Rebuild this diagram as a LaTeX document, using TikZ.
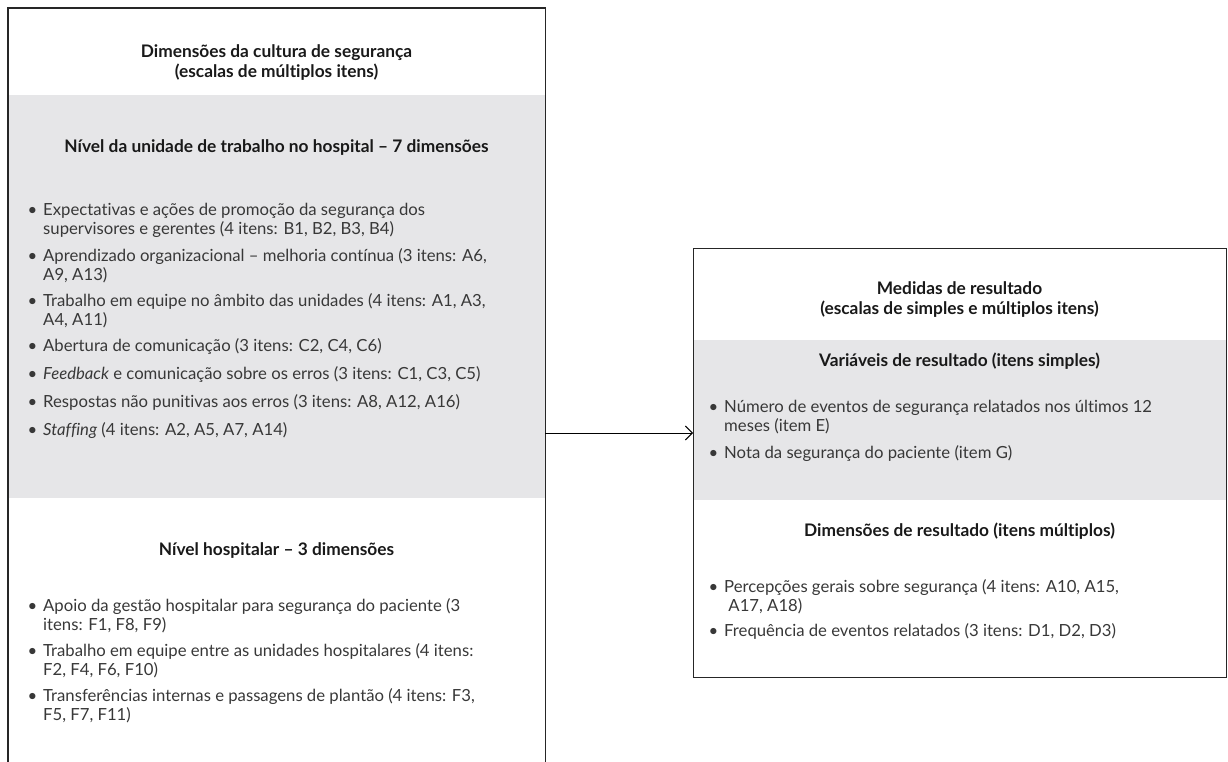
\documentclass[tikz,border=0pt]{standalone}
\usepackage{fontspec}
\setmainfont{Lato}[Ligatures={NoCommon}]
\usetikzlibrary{arrows.meta}
\definecolor{panel}{HTML}{E6E6E8}
\newcommand{\bul}{\makebox[0pt][r]{\textbullet\hspace{6pt}}}
\begin{document}
\begin{tikzpicture}[x=1pt,y=-1pt,
  frame/.style={draw=black!85, line width=1.1pt},
  shade/.style={fill=panel, draw=none},
  head/.style={font=\fontsize{17.3}{19}\selectfont\bfseries, align=center, anchor=north, inner sep=0pt, text=black!90},
  item/.style={font=\fontsize{16.7}{19}\selectfont, align=left, anchor=north west, inner sep=0pt, text=black!78},
  link/.style={-{Straight Barb[length=7pt,width=14pt]}, line width=0.9pt}]
\useasboundingbox (0,0) rectangle (1228,762);
% left panel
\fill[shade] (8,95) rectangle (545,498);
\node[minimum width=537pt, minimum height=754pt, inner sep=0pt, anchor=north west] (L) at (8,8) {};
\draw[frame] (L.south west) -- (L.north west) -- (L.north east) -- (L.south east);
\node[head] (Lt) at (276.5,44) {\strut Dimensões da cultura de segurança\\(escalas de múltiplos itens)};
\node[head] (Lh1) at (276.5,139) {\strut Nível da unidade de trabalho no hospital – 7 dimensões};
\node[item] (a1) at (43,202) {\strut\bul Expectativas e ações de promoção da segurança dos\\supervisores e gerentes (4 itens: B1, B2, B3, B4)};
\node[item] (a2) at (43,248) {\strut\bul Aprendizado organizacional – melhoria contínua (3 itens: A6,\\A9, A13)};
\node[item] (a3) at (43,293) {\strut\bul Trabalho em equipe no âmbito das unidades (4 itens: A1, A3,\\A4, A11)};
\node[item] (a4) at (43,338) {\strut\bul Abertura de comunicação (3 itens: C2, C4, C6)};
\node[item] (a5) at (43,366) {\strut\bul \textit{Feedback} e comunicação sobre os erros (3 itens: C1, C3, C5)};
\node[item] (a6) at (43,394) {\strut\bul Respostas não punitivas aos erros (3 itens: A8, A12, A16)};
\node[item] (a7) at (43,422) {\strut\bul \textit{Staffing} (4 itens: A2, A5, A7, A14)};
\node[head] (Lh2) at (276.5,542) {\strut Nível hospitalar – 3 dimensões};
\node[item] (b1) at (43,598) {\strut\bul Apoio da gestão hospitalar para segurança do paciente (3\\itens: F1, F8, F9)};
\node[item] (b2) at (43,643) {\strut\bul Trabalho em equipe entre as unidades hospitalares (4 itens:\\F2, F4, F6, F10)};
\node[item] (b3) at (43,688) {\strut\bul Transferências internas e passagens de plantão (4 itens: F3,\\F5, F7, F11)};
% right panel
\fill[shade] (693,340) rectangle (1226,500);
\node[frame, minimum width=533pt, minimum height=429pt, inner sep=0pt, anchor=north west] (R) at (693,248) {};
\node[head] (Rt) at (959.5,281) {\strut Medidas de resultado\\(escalas de simples e múltiplos itens)};
\node[head] (Rh1) at (959.5,353) {\strut Variáveis de resultado (itens simples)};
\node[item] (c1) at (724,399) {\strut\bul Número de eventos de segurança relatados nos últimos 12\\meses (item E)};
\node[item] (c2) at (724,445) {\strut\bul Nota da segurança do paciente (item G)};
\node[head] (Rh2) at (959.5,523) {\strut Dimensões de resultado (itens múltiplos)};
\node[item] (d1) at (724,579) {\strut\bul Percepções gerais sobre segurança (4 itens: A10, A15,\\\ A17, A18)};
\node[item] (d2) at (724,623) {\strut\bul Frequência de eventos relatados (3 itens: D1, D2, D3)};
% connector
\coordinate (src) at (545,433);
\draw[link] (src) -- (src -| R.west);
\end{tikzpicture}
\end{document}
